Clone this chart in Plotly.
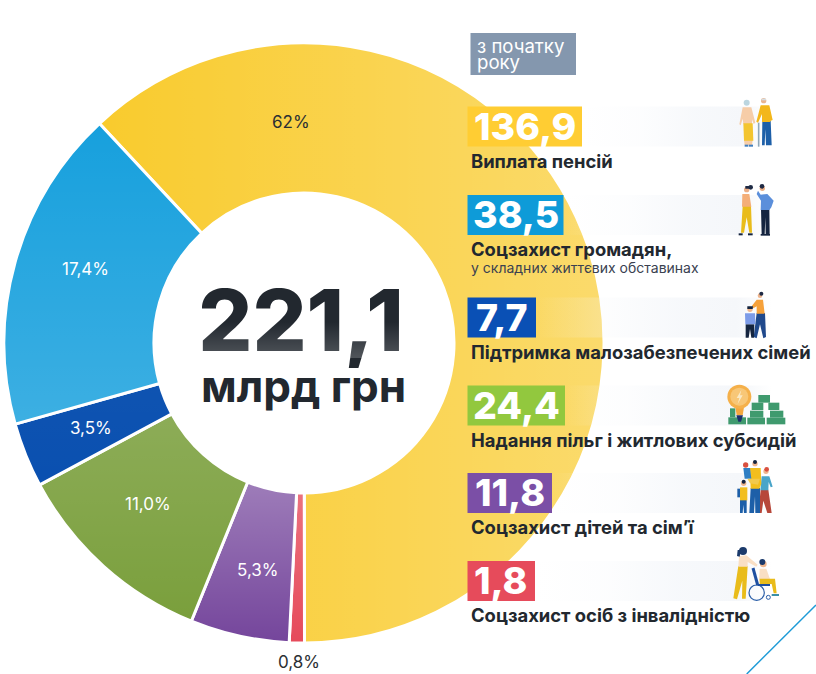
import base64
import math
import plotly.graph_objects as go

# Budget spending since the start of the year, UAH bn
categories = [
    "Виплата пенсій",
    "Соцзахист осіб з інвалідністю",
    "Соцзахист дітей та сім’ї",
    "Надання пільг і житлових субсидій",
    "Підтримка малозабезпечених сімей",
    "Соцзахист громадян",
]
values = [136.9, 1.8, 11.8, 24.4, 7.7, 38.5]
shares = ["62%", "0,8%", "5,3%", "11,0%", "3,5%", "17,4%"]
slice_colors = ["#F9CB2D", "#E64B5B", "#75469C", "#7A9F3C", "#0A50B0", "#17A0DD"]
amounts = ["136,9", "1,8", "11,8", "24,4", "7,7", "38,5"]
total_label = "221,1"
unit_label = "млрд грн"

W, H = 816, 674
CX, CY, R_OUT, R_IN = 304, 343, 300, 150
START_ANGLE = -43

FONT = "Inter"
INK = "#22282F"

# Order of the rows in the right-hand list
row_order = [0, 5, 4, 3, 2, 1]
row_tops = [106.5, 195, 297.5, 385.5, 473, 561]
row_rights = [582, 563.5, 536, 565, 552, 535]
row_box_colors = ["#FFCD33", "#0E9BD8", "#0A50B5", "#92C83E", "#7B4FA6", "#E64B5B"]
row_captions_y = [161, 249, 352, 439.5, 527, 615]
BOX_H = 40
BOX_LEFT = 467.5
STRIP_RIGHT = 772


def sector_path(a0, a1):
    """Ring sector between two clockwise-from-top angles, in degrees."""
    def pt(r, a):
        t = math.radians(a)
        return CX + r * math.sin(t), CY - r * math.cos(t)
    r_in, r_out = R_IN - 4, R_OUT + 3
    x0, y0 = pt(r_out, a0)
    x1, y1 = pt(r_out, a1)
    x2, y2 = pt(r_in, a1)
    x3, y3 = pt(r_in, a0)
    big = 1 if a1 - a0 > 180 else 0
    return (f"M{x0:.1f} {y0:.1f}A{r_out} {r_out} 0 {big} 1 {x1:.1f} {y1:.1f}"
            f"L{x2:.1f} {y2:.1f}A{r_in} {r_in} 0 {big} 0 {x3:.1f} {y3:.1f}Z")


# Soft white sheen per slice: x1, y1, x2, y2, opacity at the far end
sheens = [
    (100, 0, 604, 0, 0.30),
    (0, 640, 0, 490, 0.22),
    (0, 640, 0, 480, 0.30),
    (0, 620, 0, 415, 0.14),
    (0, 480, 0, 385, 0.02),
    (0, 124, 0, 420, 0.16),
]

defs, body = [], []
total = sum(values)
angle = START_ANGLE
for i, (v, s) in enumerate(zip(values, sheens)):
    sweep = v / total * 360
    x1, y1, x2, y2, op = s
    defs.append(
        f'<linearGradient id="s{i}" gradientUnits="userSpaceOnUse" x1="{x1}" y1="{y1}" x2="{x2}" y2="{y2}">'
        f'<stop offset="0" stop-color="#fff" stop-opacity="0"/>'
        f'<stop offset="1" stop-color="#fff" stop-opacity="{op}"/></linearGradient>'
    )
    body.append(f'<path d="{sector_path(angle, angle + sweep)}" fill="url(#s{i})"/>')
    angle += sweep

# Faint bands running from each amount box to the illustration
for i, (top, right) in enumerate(zip(row_tops, row_rights)):
    defs.append(
        f'<linearGradient id="b{i}" gradientUnits="userSpaceOnUse" x1="{right}" y1="0" x2="{STRIP_RIGHT}" y2="0">'
        f'<stop offset="0" stop-color="#F6F8FB" stop-opacity="0"/>'
        f'<stop offset="0.3" stop-color="#F6F8FB" stop-opacity="0.25"/>'
        f'<stop offset="0.6" stop-color="#F6F8FB" stop-opacity="0.9"/>'
        f'<stop offset="0.85" stop-color="#F5F7FA" stop-opacity="1"/>'
        f'<stop offset="1" stop-color="#F5F7FA" stop-opacity="0"/></linearGradient>'
    )
    body.append(f'<rect x="{right}" y="{top}" width="{STRIP_RIGHT - right}" height="{BOX_H}" fill="url(#b{i})"/>')

# Fade on the lower part of the big total
defs.append(
    '<linearGradient id="t" gradientUnits="userSpaceOnUse" x1="0" y1="322" x2="0" y2="356">'
    '<stop offset="0" stop-color="#fff" stop-opacity="0"/>'
    '<stop offset="1" stop-color="#fff" stop-opacity="0.2"/></linearGradient>'
)
body.append('<rect x="190" y="322" width="225" height="36" fill="url(#t)"/>')

svg = (f'<svg xmlns="http://www.w3.org/2000/svg" width="{W}" height="{H}" viewBox="0 0 {W} {H}">'
       f'<defs>{"".join(defs)}</defs>{"".join(body)}</svg>')
overlay_src = "data:image/svg+xml;base64," + base64.b64encode(svg.encode()).decode()

shapes = []


def box(x0, y0, x1, y1, color):
    shapes.append(dict(type="rect", xref="x", yref="y", x0=x0, y0=y0, x1=x1, y1=y1,
                       fillcolor=color, line_width=0, layer="above"))


# Icon parts are given on a 3x grid relative to the icon's own corner
def poly(o, pts, color):
    ox, oy = o
    d = "M" + "L".join(f"{ox + x / 3:.2f} {oy + y / 3:.2f}" for x, y in pts) + "Z"
    shapes.append(dict(type="path", xref="x", yref="y", path=d, fillcolor=color,
                       line_width=0, layer="above"))


def disc(o, cx, cy, r, color, ring=None, ring_w=0):
    ox, oy = o
    shapes.append(dict(type="circle", xref="x", yref="y",
                       x0=ox + (cx - r) / 3, x1=ox + (cx + r) / 3,
                       y0=oy + (cy - r) / 3, y1=oy + (cy + r) / 3,
                       fillcolor=color, layer="above",
                       line=dict(color=ring or color, width=ring_w)))


def bar(o, x0, y0, x1, y1, color, width=1.5):
    ox, oy = o
    shapes.append(dict(type="line", xref="x", yref="y",
                       x0=ox + x0 / 3, x1=ox + x1 / 3, y0=oy + y0 / 3, y1=oy + y1 / 3,
                       line=dict(color=color, width=width), layer="above"))


SKIN = "#F6CDA8"
NAVY = "#14243F"
BLUE = "#1D5FA8"
YEL = "#F2BE1E"

# Elderly couple
o = (730, 90)
poly(o, [(42, 150), (68, 150), (66, 166), (44, 166)], SKIN)
poly(o, [(44, 164), (55, 164), (55, 170), (44, 170)], "#3F7FC0")
poly(o, [(57, 164), (69, 164), (69, 170), (57, 170)], "#3F7FC0")
poly(o, [(38, 52), (64, 52), (76, 98), (71, 102), (66, 88), (66, 102), (40, 102), (38, 86), (32, 106), (28, 103)], SKIN)
poly(o, [(40, 100), (68, 100), (70, 152), (42, 152)], "#F3C52F")
disc(o, 50, 38, 9, "#BCD6E0")
bar(o, 86, 98, 86, 170, "#8FA8B8", 1.6)
poly(o, [(97, 92), (122, 92), (125, 166), (108, 166), (106, 118), (104, 166), (96, 166)], BLUE)
poly(o, [(92, 46), (118, 46), (128, 90), (122, 92), (120, 96), (96, 96), (96, 72), (84, 98), (79, 95)], "#F3B71B")
disc(o, 101, 32, 8, "#E9B48E")
poly(o, [(95, 26), (108, 26), (108, 31), (95, 31)], "#D6DEE2")

# Woman and man talking
o = (730, 180)
poly(o, [(38, 78), (63, 78), (66, 158), (58, 158), (50, 112), (42, 158), (33, 158)], "#E9BC1B")
poly(o, [(37, 42), (58, 42), (64, 80), (36, 80)], "#F4AE78")
poly(o, [(26, 160), (38, 160), (38, 166), (26, 166)], NAVY)
poly(o, [(54, 160), (68, 160), (68, 166), (54, 166)], NAVY)
disc(o, 50, 29, 8, "#EBAE86")
disc(o, 62, 22, 7, "#1F2A44")
poly(o, [(46, 18), (66, 18), (62, 26), (46, 26)], "#1F2A44")
poly(o, [(93, 88), (118, 88), (119, 164), (107, 164), (106, 112), (104, 164), (95, 164)], NAVY)
poly(o, [(92, 44), (112, 42), (131, 62), (124, 82), (118, 90), (92, 90), (93, 62), (80, 42), (84, 32)], "#5B8FDB")
disc(o, 97, 25, 8, "#EBAE86")
disc(o, 96, 19, 7, "#1F2A44")
poly(o, [(92, 162), (120, 162), (120, 167), (92, 167)], NAVY)

# Mother and son
o = (730, 285)
poly(o, [(80, 84), (105, 84), (108, 156), (100, 160), (90, 118), (80, 160), (71, 156)], "#20498C")
poly(o, [(80, 44), (99, 44), (104, 86), (80, 86), (80, 64), (70, 70), (66, 62)], "#F6A13A")
disc(o, 90, 32, 7, "#EFB68E")
disc(o, 94, 26, 6, "#1F2A44")
poly(o, [(47, 118), (73, 118), (72, 158), (64, 158), (60, 132), (56, 158), (47, 158)], NAVY)
poly(o, [(45, 85), (75, 85), (76, 118), (46, 118)], "#7C9BE8")
disc(o, 60, 73, 8, "#EFB68E")
poly(o, [(52, 64), (69, 64), (68, 72), (52, 72)], NAVY)

# Light bulb and stacks of money
o = (720, 380)
GREEN = "#3F9A6E"
for x0, y0, x1, y1 in [(115, 45, 150, 68), (95, 68, 130, 90), (145, 68, 178, 90),
                       (90, 92, 130, 113), (150, 92, 190, 113),
                       (30, 85, 46, 112), (25, 112, 78, 133), (82, 113, 135, 133), (140, 113, 196, 133)]:
    poly(o, [(x0, y0), (x1, y0), (x1, y1), (x0, y1)], GREEN)
poly(o, [(46, 82), (72, 82), (68, 106), (50, 106)], "#F3A73F")
poly(o, [(49, 106), (69, 106), (63, 125), (55, 125)], "#1C2F6B")
disc(o, 58, 50, 36, "#F5B04A")
disc(o, 58, 50, 27, "#F8C777")
poly(o, [(64, 30), (50, 54), (58, 54), (53, 72), (68, 46), (60, 46)], "#FBE9C4")

# Family of four
o = (730, 458)
poly(o, [(92, 95), (115, 95), (125, 165), (112, 165), (100, 128), (95, 165), (85, 165)], "#B7473A")
poly(o, [(95, 55), (118, 55), (128, 86), (122, 88), (116, 72), (115, 97), (91, 97)], "#49A5C9")
disc(o, 108, 40, 8, "#EFB68E")
disc(o, 110, 34, 7, "#D9503F")
poly(o, [(62, 90), (90, 90), (90, 165), (76, 165), (75, 115), (72, 165), (58, 165)], BLUE)
poly(o, [(60, 30), (92, 30), (94, 78), (88, 92), (62, 92)], YEL)
disc(o, 75, 17, 8, "#EFB68E")
disc(o, 75, 12, 6, NAVY)
poly(o, [(40, 30), (60, 30), (64, 62), (44, 62)], "#2F7FC4")
disc(o, 47, 21, 8, "#D9503F")
poly(o, [(52, 62), (90, 62), (84, 80), (60, 76)], "#F2C94C")
poly(o, [(22, 92), (34, 92), (34, 118), (22, 118)], BLUE)
poly(o, [(30, 125), (50, 125), (50, 165), (42, 165), (40, 140), (38, 165), (30, 165)], BLUE)
poly(o, [(30, 88), (52, 88), (52, 127), (30, 127)], YEL)
disc(o, 41, 76, 8, "#EFB68E")
disc(o, 41, 71, 6, NAVY)

# Carer and wheelchair user
o = (725, 540)
poly(o, [(40, 78), (68, 78), (62, 176), (51, 176), (52, 122), (36, 178), (25, 175)], "#E9BC1B")
poly(o, [(42, 48), (64, 46), (98, 74), (94, 80), (68, 66), (68, 80), (40, 80)], "#F9DFC4")
disc(o, 54, 33, 12, "#1B3A6B")
poly(o, [(38, 30), (48, 30), (44, 50), (36, 48)], "#1B3A6B")
disc(o, 95, 158, 23, "rgba(0,0,0,0)", "#2A5EA8", 1.2)
disc(o, 130, 172, 6, "rgba(0,0,0,0)", "#2A5EA8", 1)
bar(o, 84, 84, 98, 135, "#1E4FA0", 3)
bar(o, 98, 135, 135, 135, "#1E4FA0", 2)
poly(o, [(104, 86), (124, 86), (136, 120), (102, 122)], "#F9DFC4")
poly(o, [(104, 116), (150, 116), (155, 160), (146, 160), (140, 132), (104, 132)], "#E9BC1B")
poly(o, [(140, 162), (162, 162), (162, 168), (140, 168)], "#3A8FA8")
disc(o, 115, 72, 10, "#EFB68E")
disc(o, 112, 66, 9, "#1B3A6B")

# Accent line in the lower right corner
shapes.append(dict(type="line", xref="x", yref="y", x0=816, y0=605, x1=746.7, y1=674,
                   line=dict(color="#1E9BD7", width=1.5), layer="above"))

# "Since the start of the year" tag and the amount boxes
box(470.5, 33, 576, 75, "#8497AE")
for top, right, color in zip(row_tops, row_rights, row_box_colors):
    box(BOX_LEFT, top, right, top + BOX_H, color)

annotations = []


def label(x, y, text, size, color, weight=400, anchor="center"):
    annotations.append(dict(xref="x", yref="y", x=x, y=y, text=text, showarrow=False,
                            xanchor=anchor, yanchor="middle", borderpad=0, borderwidth=0,
                            font=dict(family=FONT, size=size, color=color, weight=weight)))


share_spots = [(291, 122), (299, 662), (258, 570), (148, 504), (91, 428), (85, 269)]
for text, (x, y), dark in zip(shares, share_spots, [True, True, False, False, False, False]):
    label(x, y, text, 17, "#2B2F33" if dark else "#FFFFFF")

label(477, 45.5, "з початку", 18.6, "#FFFFFF", anchor="left")
label(477, 62, "року", 18.6, "#FFFFFF", anchor="left")

captions = {
    0: "Виплата пенсій",
    5: "Соцзахист громадян,",
    4: "Підтримка малозабезпечених сімей",
    3: "Надання пільг і житлових субсидій",
    2: "Соцзахист дітей та сім’ї",
    1: "Соцзахист осіб з інвалідністю",
}
for idx, top, cap_y, right in zip(row_order, row_tops, row_captions_y, row_rights):
    label((BOX_LEFT + right) / 2, top + BOX_H / 2 - 0.5, amounts[idx], 37.5, "#FFFFFF", 800)
    label(471, cap_y, captions[idx], 18.4, INK, 700, anchor="left")
label(471, 267, "у складних життєвих обставинах", 14, "#3A4150", anchor="left")
label(303, 386, unit_label, 44, INK, 700)

pie = go.Pie(
    labels=categories,
    values=values,
    sort=False,
    direction="clockwise",
    rotation=START_ANGLE,
    hole=R_IN / R_OUT,
    marker=dict(colors=slice_colors, line=dict(color="#FFFFFF", width=3)),
    textinfo="none",
    hoverinfo="label+value",
    showlegend=False,
    domain=dict(x=[(CX - R_OUT) / W, (CX + R_OUT) / W],
                y=[1 - (CY + R_OUT) / H, 1 - (CY - R_OUT) / H]),
)

# The total sits on the hidden axes so its lower edge can take the fade above it
total_text = go.Scatter(
    x=[301], y=[330], mode="text", text=[total_label], hoverinfo="skip", showlegend=False,
    textposition="middle center",
    textfont=dict(family=FONT, size=85, color=INK, weight=800),
)

fig = go.Figure([total_text, pie])
fig.update_layout(
    width=W, height=H,
    margin=dict(l=0, r=0, t=0, b=0),
    paper_bgcolor="#FFFFFF",
    plot_bgcolor="#FFFFFF",
    xaxis=dict(range=[0, W], visible=False, fixedrange=True),
    yaxis=dict(range=[H, 0], visible=False, fixedrange=True),
    shapes=shapes,
    annotations=annotations,
    images=[dict(source=overlay_src, xref="x", yref="y", x=0, y=0,
                 sizex=W, sizey=H, sizing="stretch", xanchor="left", yanchor="top",
                 layer="above")],
)
fig.write_html("out.html", config=dict(displayModeBar=False))
